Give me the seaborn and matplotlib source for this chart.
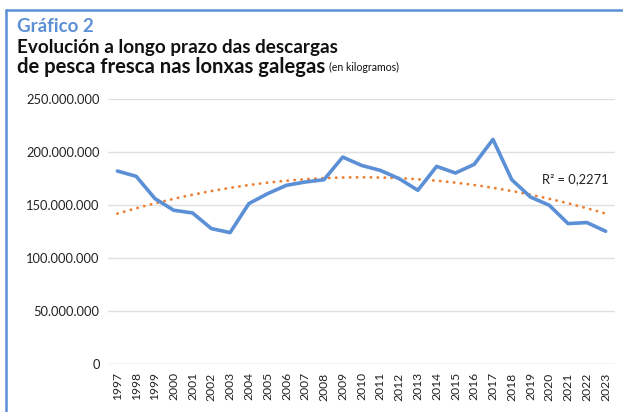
import numpy as np
import pandas as pd
import matplotlib
matplotlib.use('Agg')
import matplotlib.pyplot as plt
import seaborn as sns

# Landings of fresh fish in Galician fish markets (kg)
years = list(range(1997, 2024))
landings = [182.4e6, 177.4e6, 156.3e6, 145.3e6, 142.8e6, 128.0e6, 124.2e6,
            151.6e6, 161.0e6, 168.9e6, 172.0e6, 174.2e6, 195.6e6, 187.7e6,
            183.0e6, 175.2e6, 164.2e6, 186.8e6, 180.5e6, 188.7e6, 212.3e6,
            174.2e6, 157.8e6, 150.0e6, 132.7e6, 133.7e6, 125.5e6]
y_ticks = [0, 50e6, 100e6, 150e6, 200e6, 250e6]
y_tick_labels = ['0', '50.000.000', '100.000.000', '150.000.000',
                 '200.000.000', '250.000.000']
r2_label = 'R² = 0,2271'

df = pd.DataFrame({'year': [str(y) for y in years], 'kg': landings})
df['pos'] = np.arange(len(df))

sns.set_theme(style='white')
plt.rcParams['font.family'] = ['Lato', 'DejaVu Sans']

fig = plt.figure(figsize=(6.23, 4.12), dpi=100)
ax = fig.add_axes([0.1734, 0.1165, 0.8138, 0.642])

# polynomial (order 2) trend line, as in the spreadsheet
coef = np.polyfit(df['pos'], df['kg'], 2)
xs = np.linspace(0, len(df) - 1, 200)
ax.plot(xs, np.polyval(coef, xs), color='#ed7d31', lw=2.0,
        linestyle=(0, (0.1, 2.4)), dash_capstyle='round', zorder=2)

sns.lineplot(data=df, x='pos', y='kg', ax=ax, color='#5b8fd6', lw=2.6,
             zorder=3)

ax.set_xlim(-0.5, len(df) - 0.5)
ax.set_ylim(0, 250e6)
ax.set_yticks(y_ticks)
ax.set_yticklabels(y_tick_labels, fontsize=9.3, color='#222222')
ax.set_xticks(df['pos'])
ax.set_xticklabels(df['year'], rotation=90, fontsize=8.7, color='#222222')
ax.tick_params(axis='both', length=0, pad=6)
ax.set_xlabel('')
ax.set_ylabel('')
ax.grid(axis='y', color='#e0e0e0', lw=1)
ax.grid(axis='x', visible=False)
for s in ax.spines.values():
    s.set_visible(False)
ax.axhline(0, color='#e0e0e0', lw=1, zorder=1)

ax.text(22.6, 175e6, r2_label, fontsize=9.3, color='#222222', va='center')

# titles
fig.text(17 / 623, 1 - 27 / 412, 'Gráfico 2', fontsize=13.5, fontweight='bold',
         color='#5b8fd6', va='center')
fig.text(17 / 623, 1 - 48 / 412, 'Evolución a longo prazo das descargas',
         fontsize=13.6, fontweight='bold', color='#111111', va='center')
t = fig.text(17 / 623, 1 - 67 / 412, 'de pesca fresca nas lonxas galegas',
             fontsize=14.6, fontweight='bold', color='#111111', va='center')
fig.canvas.draw()
bb = t.get_window_extent()
fig.text((bb.x1 + 4) / 623, 1 - 67.5 / 412, '(en kilogramos)', fontsize=7.6,
         color='#111111', va='center')

# blue frame (top and left edges)
fig.add_artist(plt.Line2D([6 / 623, 1], [1 - 10 / 412, 1 - 10 / 412],
                          color='#5b8fd6', lw=1.8, transform=fig.transFigure))
fig.add_artist(plt.Line2D([6 / 623, 6 / 623], [0, 1 - 10 / 412],
                          color='#5b8fd6', lw=1.8, transform=fig.transFigure))

fig.savefig('out.png', dpi=100)
